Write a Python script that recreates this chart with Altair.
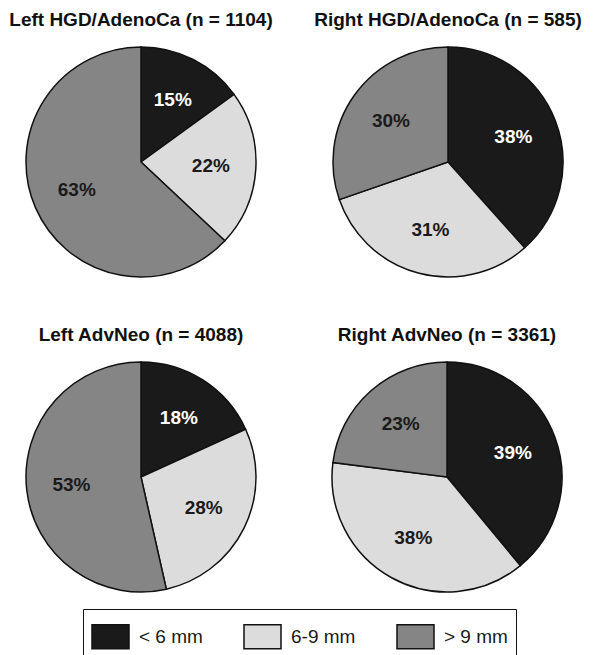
import altair as alt
import pandas as pd

titles = [
    "Left HGD/AdenoCa (n = 1104)",
    "Right HGD/AdenoCa (n = 585)",
    "Left AdvNeo (n = 4088)",
    "Right AdvNeo (n = 3361)",
]
sizes = ["< 6 mm", "6-9 mm", "> 9 mm"]
left_hgd = [15, 22, 63]
right_hgd = [38, 31, 30]
left_adv = [18, 28, 53]
right_adv = [39, 38, 23]
colors = ["#1a1a1a", "#dcdcdc", "#858585"]

series = [left_hgd, right_hgd, left_adv, right_adv]

FONT = "Liberation Sans"


def pie(title, values):
    df = pd.DataFrame({
        "cat": sizes,
        "idx": list(range(len(sizes))),
        "value": values,
        "label": [f"{v}%" for v in values],
    })
    base = alt.Chart(df).encode(
        theta=alt.Theta("value:Q", stack=True),
        order=alt.Order("idx:O"),
    )
    arcs = base.mark_arc(radius=115, stroke="#111111", strokeWidth=1.5).encode(
        color=alt.Color(
            "cat:N",
            scale=alt.Scale(domain=sizes, range=colors),
            legend=alt.Legend(
                title=None,
                orient="none",
                legendX=75,
                legendY=565,
                direction="horizontal",
                columns=3,
                symbolType="M-1,-0.65L1,-0.65L1,0.65L-1,0.65Z",
                symbolSize=1369,
                symbolStrokeColor="#111111",
                symbolStrokeWidth=1.5,
                symbolOpacity=1,
                labelFontSize=19,
                labelFont=FONT,
                labelColor="#1a1a1a",
                labelOffset=9,
                columnPadding=38,
                padding=8,
                strokeColor="#111111",
                labelLimit=200,
            ),
        )
    )
    texts = base.mark_text(
        radius=70, fontSize=19, fontWeight="bold", font=FONT
    ).encode(
        text="label:N",
        color=alt.condition(
            alt.datum.cat == "< 6 mm", alt.value("white"), alt.value("#1a1a1a")
        ),
    )
    return (arcs + texts).properties(
        width=266,
        height=236,
        title=alt.TitleParams(
            title, fontSize=19, fontWeight="bold", font=FONT, color="#111111", offset=14
        ),
    )


charts = [pie(t, v) for t, v in zip(titles, series)]

chart = alt.vconcat(
    alt.hconcat(charts[0], charts[1], spacing=40),
    alt.hconcat(charts[2], charts[3], spacing=40),
    spacing=46,
).properties(
    padding={"left": 0, "top": 3, "right": 0, "bottom": 0}
).configure_view(stroke=None).configure(background="white")

chart.save("out.html", embed_options={"renderer": "svg", "actions": False})
